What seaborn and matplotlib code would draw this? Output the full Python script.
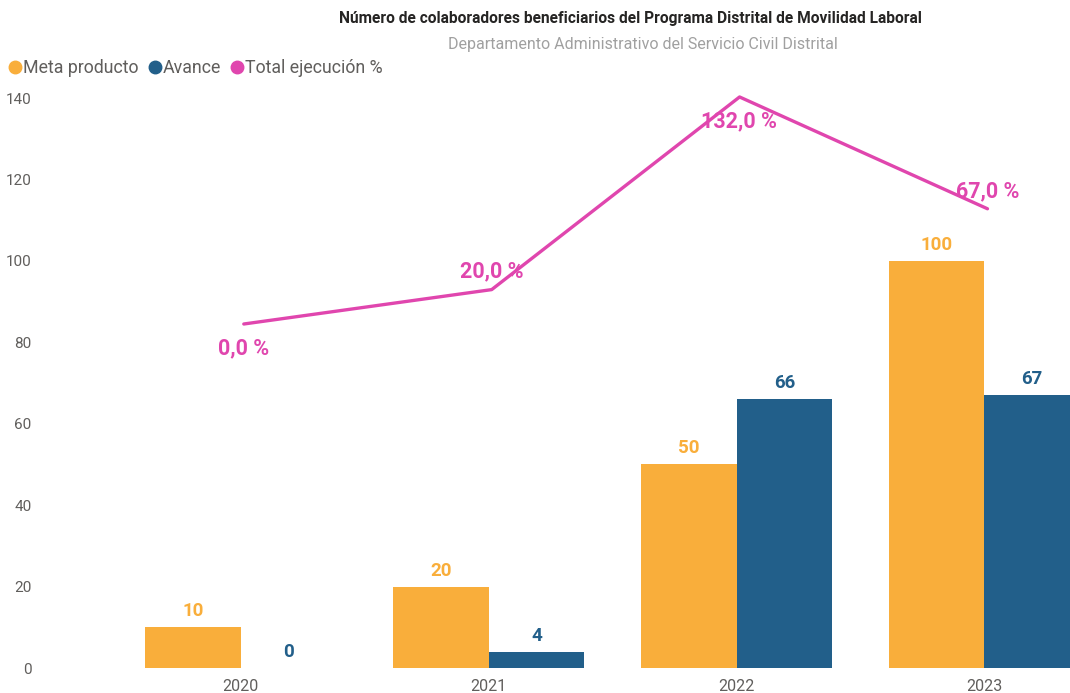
import matplotlib
matplotlib.use("Agg")
import matplotlib.pyplot as plt
import matplotlib.transforms as mtransforms
import seaborn as sns
import pandas as pd
from matplotlib.lines import Line2D

years = ["2020", "2021", "2022", "2023"]
meta_producto = [10, 20, 50, 100]
avance = [0, 4, 66, 67]
ejecucion_pct = [0.0, 20.0, 132.0, 67.0]
series_names = ["Meta producto", "Avance", "Total ejecución %"]
yticks = [0, 20, 40, 60, 80, 100, 120, 140]

ORANGE = "#F9AE3B"
BLUE = "#225F8A"
PINK = "#E046AE"

sns.set_theme(style="white")
plt.rcParams["font.family"] = ["Roboto", "DejaVu Sans"]

df = pd.DataFrame({
    "Año": years * 2,
    "Valor": meta_producto + avance,
    "Serie": [series_names[0]] * 4 + [series_names[1]] * 4,
})

fig = plt.figure(figsize=(10.7, 6.93), dpi=100)
ax = fig.add_axes([40 / 1070, 25 / 693, 1030 / 1070, 570 / 693])

sns.barplot(data=df, x="Año", y="Valor", hue="Serie", order=years,
            hue_order=series_names[:2], palette=[ORANGE, BLUE],
            width=0.77, saturation=1, legend=False, linewidth=0, ax=ax)

for cont, col in zip(ax.containers, [ORANGE, BLUE]):
    ax.bar_label(cont, labels=[f"{int(v)}" for v in cont.datavalues],
                 padding=5, color=col, fontsize=13.5, fontweight="bold")

ax.set_ylim(0, 140)
ax.set_xlim(-0.81, 3.345)
ax.set_yticks(yticks)
ax.set_xlabel("")
ax.set_ylabel("")
ax.tick_params(axis="y", colors="#605E5C", labelsize=11, length=0, pad=6)
ax.tick_params(axis="x", colors="#605E5C", labelsize=11.5, length=0, pad=8)
for s in ax.spines.values():
    s.set_visible(False)
ax.grid(False)

ax2 = ax.twinx()
sns.lineplot(x=[0, 1, 2, 3], y=ejecucion_pct, color=PINK, linewidth=2.4,
             ax=ax2, legend=False)
shift = mtransforms.ScaledTranslation(3 / 100, 0, fig.dpi_scale_trans)
for line in ax2.lines:
    line.set_clip_on(False)
    line.set_transform(line.get_transform() + shift)
ax2.set_ylim(-200, 131.4)
ax2.set_xlim(-0.81, 3.345)
ax2.axis("off")

offsets = [-24, 18, -24, 17]
for i, (v, off) in enumerate(zip(ejecucion_pct, offsets)):
    ax2.annotate(f"{v:.1f} %".replace(".", ","), (i, v), xytext=(2, off * 0.72),
                 textcoords="offset points", ha="center", va="center",
                 color=PINK, fontsize=15.5, fontweight="bold", annotation_clip=False)

fig.text(630 / 1070, 1 - 18 / 693,
         "Número de colaboradores beneficiarios del Programa Distrital de Movilidad Laboral",
         ha="center", va="center", fontsize=11.2, fontweight="bold", color="#252423")
fig.text(643 / 1070, 1 - 45 / 693, "Departamento Administrativo del Servicio Civil Distrital",
         ha="center", va="center", fontsize=11.5, color="#A0A0A0")

handles = [Line2D([], [], marker="o", linestyle="", markersize=9, color=c)
           for c in [ORANGE, BLUE, PINK]]
fig.legend(handles, series_names, loc="center left", bbox_to_anchor=(0.006, 1 - 68 / 693),
           ncol=3, frameon=False, fontsize=12.8, handletextpad=-0.05, columnspacing=0.4,
           handlelength=1.0, borderaxespad=0, borderpad=0, labelcolor="#605E5C")

fig.savefig("out.png", dpi=100)
